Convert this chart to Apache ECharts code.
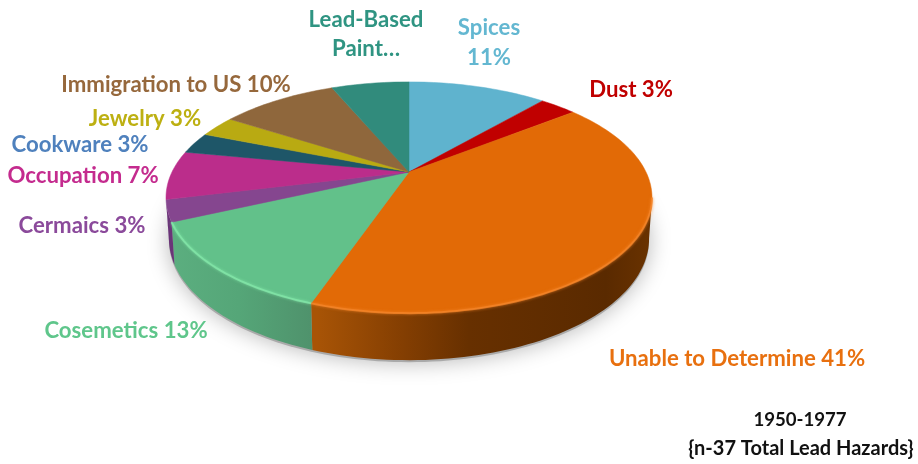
<!DOCTYPE html>
<html><head><meta charset="utf-8">
<style>html,body{margin:0;padding:0;background:#fff}#c{width:918px;height:464px}</style>
<script src="https://cdn.jsdelivr.net/npm/echarts@6/dist/echarts.min.js"></script>
</head><body><div id="c"></div>
<script>
const categories = ["Spices","Dust","Unable to Determine","Cosemetics","Cermaics","Occupation","Cookware","Jewelry","Immigration to US","Lead-Based Paint…"];
const percentages = [11.4,3,40.9,12.9,3,6.8,3,3,9.6,6.4];
const captionLines = ["1950-1977","{n-37 Total Lead Hazards}"];

const topColors = ["#5fb3ce","#c00000","#e26a06","#62c18a","#85468f","#bb2d8b","#1e5668","#b9aa12","#8f673c","#318b7c"];
const labelColors = ["#63b7d1","#c00000","#e8700f","#5fc68b","#8b4a9b","#c42b8e","#4f81bd","#bdb012","#96683c","#2f9482"];
const labelLayout = [
  {x:489,y:28,lines:["Spices","11%"],lh:30},
  {x:631,y:90,lines:["Dust 3%"]},
  {x:737,y:359,lines:["Unable to Determine 41%"]},
  {x:126,y:331,lines:["Cosemetics 13%"]},
  {x:82,y:226,lines:["Cermaics 3%"]},
  {x:83,y:176,lines:["Occupation 7%"]},
  {x:80,y:145,lines:["Cookware 3%"]},
  {x:145,y:119,lines:["Jewelry 3%"]},
  {x:176,y:85,lines:["Immigration to US 10%"]},
  {x:366,y:20,lines:["Lead-Based","Paint…"],lh:29}
];

// perspective of the pie plane
const CX = 409, CY = 172, A = 237, B = 110, P = 0.2208;
function proj(deg){
  const t = deg*Math.PI/180, X = Math.sin(t), Z = Math.cos(t), w = 1+P*Z;
  return [CX + A*X/w, CY - B*Z/w, Z];
}
function lower(pt){
  const d = 41 + (47-41)*Math.max(0,(-pt[2]-0.22)/0.78);
  return [CX + (pt[0]-CX)*0.988, pt[1]+d];
}
const total = percentages.reduce((a,b)=>a+b,0);
const bounds = [0];
percentages.forEach(v=>bounds.push(bounds[bounds.length-1]+v/total*360));
function arc(a,b){
  const n = Math.max(2,Math.ceil(Math.abs(b-a)/1.5)), out=[];
  for(let i=0;i<=n;i++) out.push(proj(a+(b-a)*i/n));
  return out;
}
const VIS_A = Math.acos(-P)*180/Math.PI, VIS_B = 360-VIS_A;

const G = (stops)=>new echarts.graphic.LinearGradient(165,0,655,0,stops,true);
function wallFill(i){
  if(i===2) return G([{offset:0,color:"#5c2b00"},{offset:0.3,color:"#a85406"},{offset:0.31,color:"#a85406"},{offset:0.48,color:"#853f02"},{offset:0.62,color:"#673000"},{offset:0.9,color:"#5a2a00"},{offset:1,color:"#6b3300"}]);
  if(i===3) return G([{offset:0,color:"#5caf80"},{offset:0.15,color:"#55a678"},{offset:0.3,color:"#4f926c"},{offset:1,color:"#4f926c"}]);
  return "#6a3478";
}

const shadowSeries = {
  type:"custom",coordinateSystem:"none",silent:true,z:1,data:[0],
  renderItem(){
    const pts = arc(0,360).map(p=>{const q=lower(p);return [q[0],q[1]+2];});
    return {type:"polygon",shape:{points:pts},style:{fill:"#999",shadowBlur:22,shadowColor:"rgba(0,0,0,0.38)",opacity:0.75}};
  }
};
const wallSeries = {
  type:"custom",coordinateSystem:"none",silent:true,z:2,data:percentages,
  renderItem(params){
    const i=params.dataIndex;
    const a=Math.max(bounds[i],VIS_A), b=Math.min(bounds[i+1],VIS_B);
    if(b<=a) return {type:"group",children:[]};
    const top=arc(a,b), pts=top.map(p=>[p[0],p[1]]).concat(top.slice().reverse().map(lower));
    return {type:"polygon",shape:{points:pts},style:{fill:wallFill(i)}};
  }
};
const topSeries = {
  type:"custom",coordinateSystem:"none",silent:true,z:3,data:percentages,
  renderItem(params){
    const i=params.dataIndex;
    const pts=[[CX,CY]].concat(arc(bounds[i],bounds[i+1]).map(p=>[p[0],p[1]]));
    return {type:"polygon",shape:{points:pts},style:{fill:topColors[i],stroke:topColors[i],lineWidth:0.5}};
  }
};
const rimColors = {2:"#f5862a",3:"#84e8aa"};
const rimSeries = {
  type:"custom",coordinateSystem:"none",silent:true,z:4,data:percentages,
  renderItem(params){
    const i=params.dataIndex;
    if(!rimColors[i]) return {type:"group",children:[]};
    const a=Math.max(bounds[i],VIS_A), b=Math.min(bounds[i+1],VIS_B);
    const pts=arc(a,b).map(p=>[p[0],p[1]]);
    return {type:"polyline",shape:{points:pts},style:{fill:null,stroke:rimColors[i],lineWidth:2,opacity:0.75,shadowBlur:3,shadowColor:rimColors[i]}};
  }
};
const FONT = "Lato, Carlito, sans-serif";
const labelSeries = {
  type:"custom",coordinateSystem:"none",silent:true,z:5,data:percentages,
  renderItem(params){
    const i=params.dataIndex, L=labelLayout[i];
    return {type:"group",children:L.lines.map((t,k)=>({
      type:"text",
      style:{text:t,x:L.x,y:L.y+k*(L.lh||0),align:"center",verticalAlign:"middle",font:"bold 22.2px "+FONT,fill:labelColors[i]}
    }))};
  }
};
const captionSeries = {
  type:"custom",coordinateSystem:"none",silent:true,z:5,data:captionLines,
  renderItem(params){
    const i=params.dataIndex;
    return {type:"text",style:{text:captionLines[i],x:i===0?800:801,y:i===0?420:449,align:"center",verticalAlign:"middle",font:"bold "+(i===0?18.6:20)+"px "+FONT,fill:"#111"}};
  }
};
const chart = echarts.init(document.getElementById("c"),null,{renderer:"canvas"});
chart.setOption({animation:false,backgroundColor:"#fff",
  series:[shadowSeries,wallSeries,topSeries,rimSeries,labelSeries,captionSeries]});
</script></body></html>
